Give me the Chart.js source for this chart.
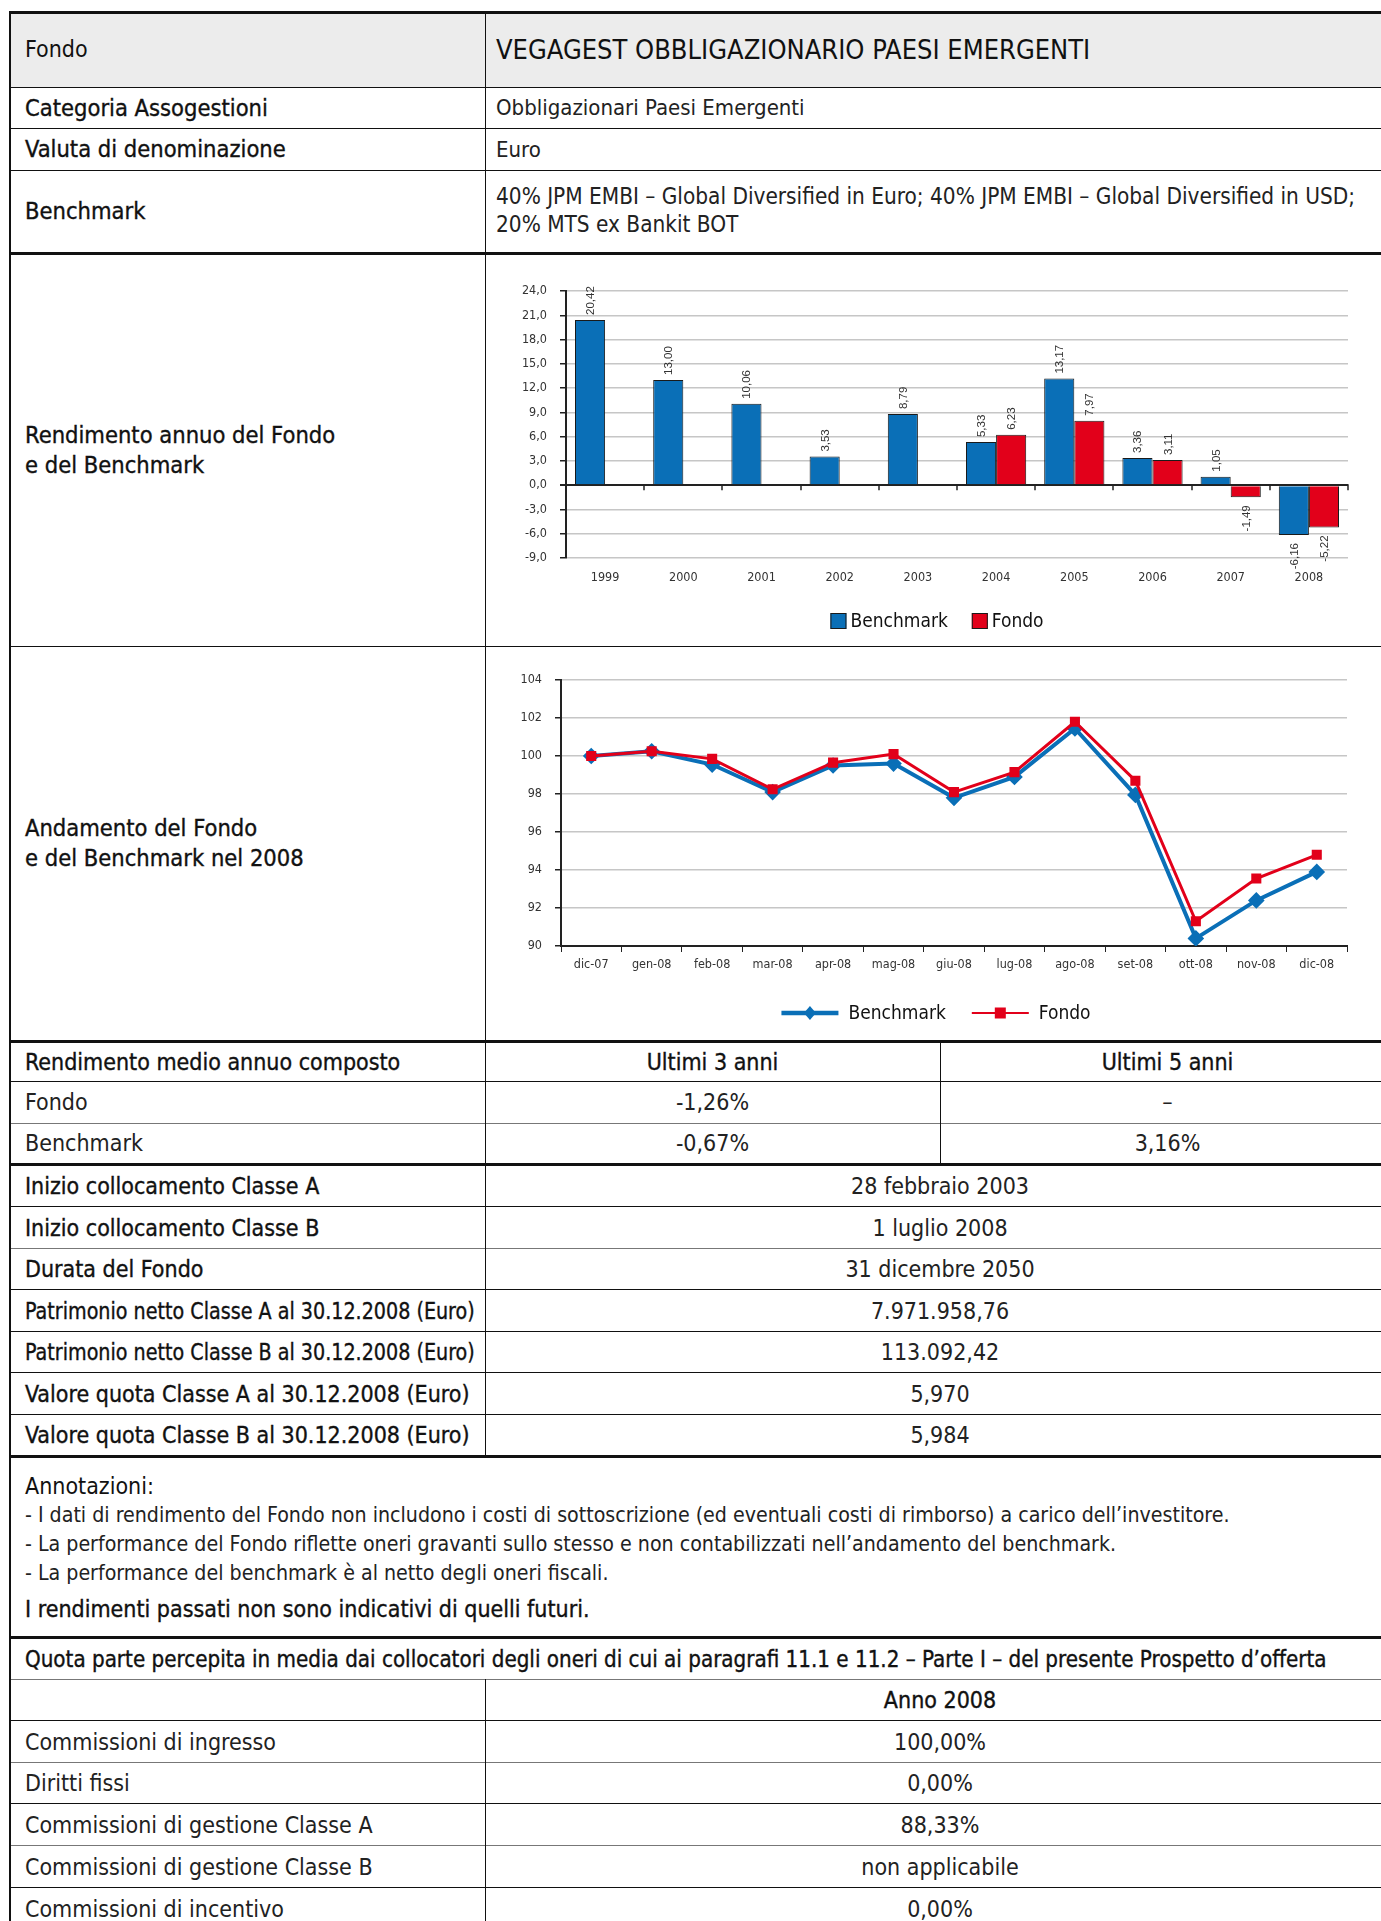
<!DOCTYPE html>
<html>
<head>
<meta charset="utf-8">
<script src="https://cdn.jsdelivr.net/npm/chart.js@4.4.1/dist/chart.umd.min.js"></script>
<style>
  html, body { margin: 0; padding: 0; background: #fff; }
  body { width: 1381px; height: 1921px; position: relative; overflow: hidden;
         font-family: 'Liberation Sans Narrow', 'DejaVu Sans Condensed', 'Liberation Sans', sans-serif; color: #111; }
  .hl { position: absolute; background: #111; }
  .vl { position: absolute; background: #111; width: 1px; }
  .tx { position: absolute; white-space: nowrap; font-size: 23px; }
  .md { -webkit-text-stroke: 0.35px #111; }
  .chartbox { position: absolute; }
</style>
</head>
<body>
<div class="chartbox" style="left:486px; top:255px; width:895px; height:390px;"><canvas id="barChart" width="895" height="390"></canvas></div>
<div class="chartbox" style="left:486px; top:648px; width:895px; height:392px;"><canvas id="lineChart" width="895" height="392"></canvas></div>

<script>
// annual returns (bar chart)
const years = ['1999', '2000', '2001', '2002', '2003', '2004', '2005', '2006', '2007', '2008'];
const benchReturns = [20.42, 13.00, 10.06, 3.53, 8.79, 5.33, 13.17, 3.36, 1.05, -6.16];
const fondoReturns = [null, null, null, null, null, 6.23, 7.97, 3.11, -1.49, -5.22];
const barMin = -9, barMax = 24, barStep = 3;

// 2008 trend (line chart)
const months = ['dic-07', 'gen-08', 'feb-08', 'mar-08', 'apr-08', 'mag-08', 'giu-08', 'lug-08', 'ago-08', 'set-08', 'ott-08', 'nov-08', 'dic-08'];
const benchIndex = [100.0, 100.25, 99.55, 98.1, 99.5, 99.6, 97.8, 98.9, 101.45, 97.95, 90.4, 92.4, 93.9];
const fondoIndex = [100.0, 100.25, 99.85, 98.25, 99.65, 100.1, 98.1, 99.15, 101.8, 98.7, 91.3, 93.55, 94.8];
const lineMin = 90, lineMax = 104, lineStep = 2;

const BLUE = '#0a6fb7';
const RED = '#e2001a';
const narrow = "'Liberation Sans Narrow', 'DejaVu Sans Condensed', 'Liberation Sans', sans-serif";

// ---------- table ----------
const L = 9, C1 = 485, C2 = 940, R = 1395;

function hline(y, t, color) {
  const d = document.createElement('div');
  d.className = 'hl';
  d.style.cssText = `left:${L}px; top:${y}px; width:${R - L}px; height:${t}px; background:${color || '#111'}`;
  document.body.appendChild(d);
}
function vline(x, y0, y1, w) {
  const d = document.createElement('div');
  d.className = 'vl';
  d.style.cssText = `left:${x}px; top:${y0}px; height:${y1 - y0}px; width:${w || 1}px`;
  document.body.appendChild(d);
}
function text(x0, x1, y0, y1, str, align, extra, cls) {
  const d = document.createElement('div');
  d.className = 'tx' + (cls ? ' ' + cls : '');
  d.style.cssText = `left:${x0}px; width:${x1 - x0}px; top:${y0}px; height:${y1 - y0}px; line-height:${y1 - y0}px; text-align:${align || 'left'}; ${extra || ''}`;
  d.textContent = str;
  document.body.appendChild(d);
}

// header background
const bg = document.createElement('div');
bg.style.cssText = `position:absolute; left:${L}px; top:12px; width:${R - L}px; height:75px; background:#ececec`;
document.body.appendChild(bg);

const lines = [
  [11, 3], [87, 1], [128, 1], [170, 1], [252, 3], [646, 1], [1040, 3], [1081, 1], [1123, 1, '#777'],
  [1163, 3], [1206, 1], [1248, 1, '#777'], [1289, 1], [1331, 1], [1372, 1], [1414, 1], [1455, 3],
  [1636, 3], [1679, 1, '#777'], [1720, 1], [1762, 1, '#777'], [1803, 1], [1845, 1, '#777'], [1887, 1]
];
lines.forEach(l => hline(l[0], l[1], l[2]));
vline(L, 11, 1921, 2);
vline(C1, 11, 1456);
vline(C1, 1679, 1921);
vline(C2, 1041, 1164);

const TL = 25, TR = 496;
const squeeze = 'transform:scaleX(0.925); transform-origin:left center';
text(TL, C1, 12, 87, 'Fondo', 'left', 'font-size:23px');
text(TR, R, 12, 87, 'VEGAGEST OBBLIGAZIONARIO PAESI EMERGENTI', 'left', 'font-size:27px');
text(TL, C1, 88, 128, 'Categoria Assogestioni', 'left', 'font-size:23.5px', 'md');
text(TR, R, 88, 128, 'Obbligazionari Paesi Emergenti', 'left', 'font-size:22px; color:#222');
text(TL, C1, 129, 170, 'Valuta di denominazione', 'left', 'font-size:23.5px', 'md');
text(TR, R, 129, 170, 'Euro', 'left', 'font-size:22px; color:#222');
text(TL, C1, 171, 252, 'Benchmark', 'left', 'font-size:23.5px', 'md');
text(TR, R, 182, 210, '40% JPM EMBI – Global Diversified in Euro; 40% JPM EMBI – Global Diversified in USD;', 'left', 'font-size:22.4px; color:#222');
text(TR, R, 210, 238, '20% MTS ex Bankit BOT', 'left', 'font-size:22.4px; color:#222');
text(TL, C1, 421, 449, 'Rendimento annuo del Fondo', 'left', 'font-size:23.5px', 'md');
text(TL, C1, 451, 479, 'e del Benchmark', 'left', 'font-size:23.5px', 'md');
text(TL, C1, 814, 842, 'Andamento del Fondo', 'left', 'font-size:23.5px', 'md');
text(TL, C1, 844, 872, 'e del Benchmark nel 2008', 'left', 'font-size:23.5px', 'md');

text(TL, C1, 1043, 1081, 'Rendimento medio annuo composto', 'left', '', 'md');
text(C1, C2, 1043, 1081, 'Ultimi 3 anni', 'center', '', 'md');
text(C2, R, 1043, 1081, 'Ultimi 5 anni', 'center', '', 'md');
text(TL, C1, 1082, 1123, 'Fondo', 'left', 'color:#222');
text(C1, C2, 1082, 1123, '-1,26%', 'center', 'color:#222');
text(C2, R, 1082, 1123, '–', 'center', 'color:#222');
text(TL, C1, 1124, 1163, 'Benchmark', 'left', 'color:#222');
text(C1, C2, 1124, 1163, '-0,67%', 'center', 'color:#222');
text(C2, R, 1124, 1163, '3,16%', 'center', 'color:#222');

const infoRows = [
  ['Inizio collocamento Classe A', '28 febbraio 2003', ''],
  ['Inizio collocamento Classe B', '1 luglio 2008', ''],
  ['Durata del Fondo', '31 dicembre 2050', ''],
  ['Patrimonio netto Classe A al 30.12.2008 (Euro)', '7.971.958,76', squeeze],
  ['Patrimonio netto Classe B al 30.12.2008 (Euro)', '113.092,42', squeeze],
  ['Valore quota Classe A al 30.12.2008 (Euro)', '5,970', ''],
  ['Valore quota Classe B al 30.12.2008 (Euro)', '5,984', '']
];
const infoTops = [1166, 1207, 1249, 1290, 1332, 1373, 1415, 1455];
infoRows.forEach((r, i) => {
  text(TL, C1, infoTops[i], infoTops[i + 1], r[0], 'left', r[2], 'md');
  text(C1, R, infoTops[i], infoTops[i + 1], r[1], 'center', 'color:#222');
});

text(TL, R, 1470, 1502, 'Annotazioni:');
text(TL, R, 1500, 1530, '- I dati di rendimento del Fondo non includono i costi di sottoscrizione (ed eventuali costi di rimborso) a carico dell’investitore.', 'left', 'font-size:21.2px; color:#222');
text(TL, R, 1529, 1559, '- La performance del Fondo riflette oneri gravanti sullo stesso e non contabilizzati nell’andamento del benchmark.', 'left', 'font-size:21.2px; color:#222');
text(TL, R, 1558, 1588, '- La performance del benchmark è al netto degli oneri fiscali.', 'left', 'font-size:21.2px; color:#222');
text(TL, R, 1593, 1625, 'I rendimenti passati non sono indicativi di quelli futuri.', 'left', '', 'md');

text(TL, R, 1639, 1679, 'Quota parte percepita in media dai collocatori degli oneri di cui ai paragrafi 11.1 e 11.2 – Parte I – del presente Prospetto d’offerta', 'left', 'font-size:22.2px', 'md');
text(C1, R, 1680, 1720, 'Anno 2008', 'center', '', 'md');
const feeRows = [
  ['Commissioni di ingresso', '100,00%'],
  ['Diritti fissi', '0,00%'],
  ['Commissioni di gestione Classe A', '88,33%'],
  ['Commissioni di gestione Classe B', 'non applicabile'],
  ['Commissioni di incentivo', '0,00%']
];
const feeTops = [1721, 1763, 1804, 1846, 1888, 1930];
feeRows.forEach((r, i) => {
  text(TL, C1, feeTops[i], feeTops[i + 1], r[0], 'left', 'color:#222');
  text(C1, R, feeTops[i], feeTops[i + 1], r[1], 'center', 'color:#222');
});

// ---------- charts ----------
Chart.defaults.font.family = narrow;
Chart.defaults.color = '#333';

const fmt1 = v => v.toFixed(1).replace('.', ',');
const fmt2 = v => v.toFixed(2).replace('.', ',');

// legend drawn under the plot, a little left of the plot centre as in the original
const centredLegend = {
  id: 'centredLegend',
  afterDraw(chart, args, opts) {
    const ctx = chart.ctx;
    const ca = chart.chartArea;
    const sets = chart.data.datasets;
    ctx.save();
    ctx.font = `19px ${narrow}`;
    const widths = sets.map(ds => ctx.measureText(ds.label).width);
    let total = opts.itemGap * (sets.length - 1);
    widths.forEach(w => { total += opts.iconW + opts.iconGap + w; });
    let x = (ca.left + ca.right) / 2 + opts.dx - total / 2;
    const y = ca.bottom + opts.dy;
    sets.forEach((ds, i) => {
      if (opts.kind === 'box') {
        ctx.fillStyle = ds.backgroundColor;
        ctx.fillRect(x, y - 8, opts.iconW, 16);
        ctx.strokeStyle = '#1a1a1a';
        ctx.lineWidth = 1;
        ctx.strokeRect(x + 0.5, y - 7.5, opts.iconW - 1, 15);
      } else {
        ctx.strokeStyle = ds.borderColor;
        ctx.fillStyle = ds.borderColor;
        ctx.lineWidth = ds.pointStyle === 'rectRot' ? 4.5 : 2;
        ctx.beginPath(); ctx.moveTo(x, y); ctx.lineTo(x + opts.iconW, y); ctx.stroke();
        const cx = x + opts.iconW / 2;
        if (ds.pointStyle === 'rectRot') {
          ctx.beginPath(); ctx.moveTo(cx, y - 7); ctx.lineTo(cx + 6, y); ctx.lineTo(cx, y + 7); ctx.lineTo(cx - 6, y); ctx.closePath(); ctx.fill();
        } else {
          ctx.fillRect(cx - 5.5, y - 5.5, 11, 11);
        }
      }
      ctx.fillStyle = '#111';
      ctx.textBaseline = 'middle';
      ctx.textAlign = 'left';
      ctx.fillText(ds.label, x + opts.iconW + opts.iconGap, y + 1);
      x += opts.iconW + opts.iconGap + widths[i] + opts.itemGap;
    });
    ctx.restore();
  }
};

// rotated value labels above / below bars, plus the tick marks on the zero line
const barExtras = {
  id: 'barExtras',
  afterDatasetsDraw(chart) {
    const ctx = chart.ctx;
    const xs = chart.scales.x, ys = chart.scales.y;
    const y0 = ys.getPixelForValue(0);
    ctx.save();
    ctx.strokeStyle = '#222';
    ctx.lineWidth = 1.5;
    const n = xs.ticks.length;
    const w = (xs.right - xs.left) / n;
    for (let i = 0; i <= n; i++) {
      const x = Math.round(xs.left + i * w);
      ctx.beginPath();
      ctx.moveTo(x, y0 - 1);
      ctx.lineTo(x, y0 + 5);
      ctx.stroke();
    }
    ctx.font = "11.5px 'Liberation Sans', Arial, sans-serif";
    ctx.fillStyle = '#333';
    chart.data.datasets.forEach((ds, di) => {
      const meta = chart.getDatasetMeta(di);
      meta.data.forEach((bar, i) => {
        const v = ds.data[i];
        if (v === null) return;
        ctx.save();
        ctx.translate(bar.x + 4, v >= 0 ? bar.y - 5 : bar.y + 8);
        ctx.rotate(-Math.PI / 2);
        ctx.textAlign = v >= 0 ? 'left' : 'right';
        ctx.textBaseline = 'alphabetic';
        ctx.fillText(fmt2(v), 0, 0);
        ctx.restore();
      });
    });
    ctx.restore();
  }
};

new Chart(document.getElementById('barChart'), {
  type: 'bar',
  data: {
    labels: years,
    datasets: [
      { label: 'Benchmark', data: benchReturns, backgroundColor: BLUE, borderColor: '#1a1a1a', borderWidth: 1 },
      { label: 'Fondo', data: fondoReturns, backgroundColor: RED, borderColor: '#1a1a1a', borderWidth: 1 }
    ]
  },
  options: {
    responsive: false,
    animation: false,
    devicePixelRatio: 1,
    layout: { padding: { top: 36, right: 33, left: 0, bottom: 40 } },
    datasets: { bar: { barPercentage: 1.0, categoryPercentage: 0.77 } },
    scales: {
      x: {
        grid: { display: false },
        border: { display: false },
        ticks: { padding: 4, font: { size: 12.5 }, color: '#333' },
        afterFit: s => { s.height = 47; }
      },
      y: {
        min: barMin, max: barMax,
        ticks: { stepSize: barStep, callback: v => fmt1(v), padding: 13, font: { size: 12.5 }, color: '#333' },
        grid: {
          color: c => c.tick && c.tick.value === 0 ? '#222' : '#c6c6c6',
          lineWidth: c => c.tick && c.tick.value === 0 ? 2 : 1.5,
          tickColor: '#222', tickLength: 6
        },
        border: { color: '#222', width: 2 },
        afterFit: s => { s.width = 80; }
      }
    },
    plugins: {
      legend: { display: false },
      tooltip: { enabled: false },
      centredLegend: { kind: 'box', iconW: 16, iconGap: 4, itemGap: 24, dx: -20, dy: 63 }
    }
  },
  plugins: [barExtras, centredLegend]
});

new Chart(document.getElementById('lineChart'), {
  type: 'line',
  data: {
    labels: months,
    datasets: [
      { label: 'Benchmark', data: benchIndex, borderColor: BLUE, backgroundColor: BLUE, borderWidth: 4,
        pointStyle: 'rectRot', pointRadius: 5.5, order: 1 },
      { label: 'Fondo', data: fondoIndex, borderColor: RED, backgroundColor: RED, borderWidth: 3,
        pointStyle: 'rect', pointRadius: 5, order: 0 }
    ]
  },
  options: {
    responsive: false,
    animation: false,
    devicePixelRatio: 1,
    layout: { padding: { top: 32, right: 34, left: 0, bottom: 50 } },
    scales: {
      x: {
        offset: true,
        grid: { display: true, drawOnChartArea: false, offset: true, tickLength: 6, tickColor: '#222' },
        border: { color: '#222', width: 2 },
        ticks: { padding: 5, font: { size: 12.5 }, color: '#333' },
        afterFit: s => { s.height = 44; }
      },
      y: {
        min: lineMin, max: lineMax,
        ticks: { stepSize: lineStep, padding: 13, font: { size: 12.5 }, color: '#333' },
        grid: { color: '#c6c6c6', lineWidth: 1.5, tickColor: '#222', tickLength: 6 },
        border: { color: '#222', width: 2 },
        afterFit: s => { s.width = 75; }
      }
    },
    plugins: {
      legend: { display: false },
      tooltip: { enabled: false },
      centredLegend: { kind: 'line', iconW: 57, iconGap: 10, itemGap: 26, dx: -18, dy: 67 }
    }
  },
  plugins: [centredLegend]
});
</script>
</body>
</html>
